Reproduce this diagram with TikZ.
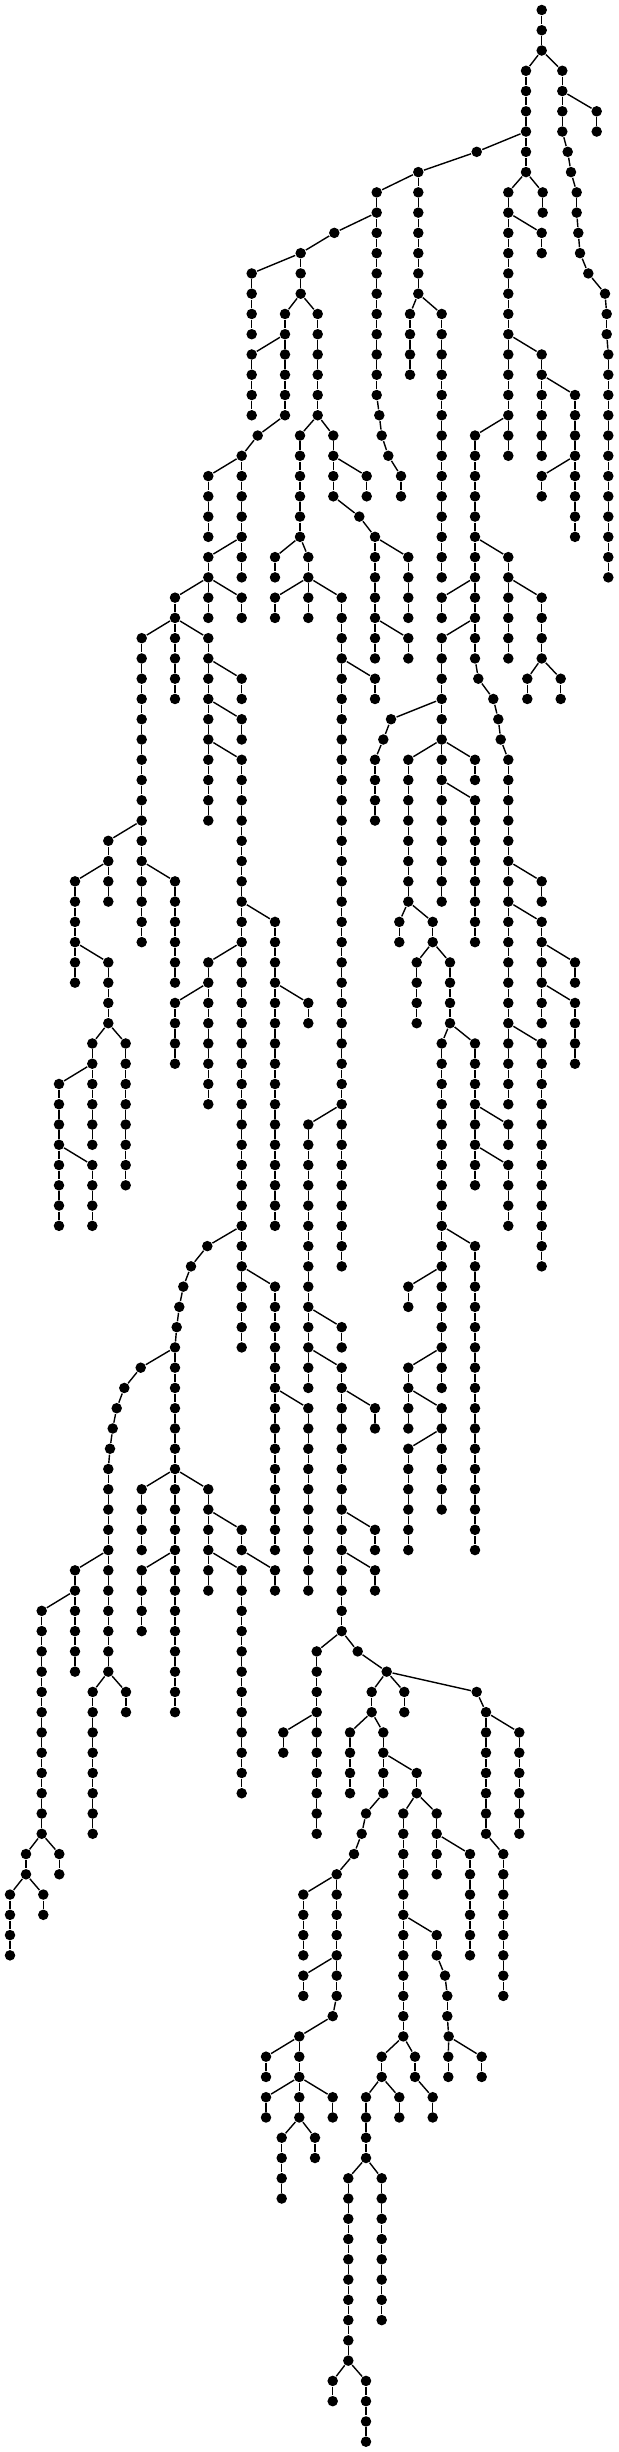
\documentclass[tikz,border=0pt]{standalone}
\tikzset{dot/.style={circle,fill=black,draw=none,inner sep=0pt,minimum size=0.105cm},
  edge/.style={line width=0.4pt,draw=black}}
\newcommand\tvchain[4]{%
  \foreach \lv in {#3,...,#4}{\node[dot] (#1-\lv) at (#2,{10+20.264*\lv}) {};}%
  \foreach \lv in {#3,...,#4}{\ifnum\lv>#3\relax\pgfmathtruncatemacro\pl{\lv-1}\draw[edge] (#1-\pl) -- (#1-\lv);\fi}}
\newcommand\tpchain[3]{%
  \foreach \xx [count=\ci from #2] in {#3}{\node[dot] (#1-\ci) at (\xx,{10+20.264*\ci}) {};}%
  \foreach \xx [count=\ci from #2] in {#3}{\ifnum\ci>#2\relax\pgfmathtruncatemacro\pl{\ci-1}\draw[edge] (#1-\pl) -- (#1-\ci);\fi}}
\begin{document}
\begin{tikzpicture}[x=0.01cm,y=-0.01cm]
\useasboundingbox (0,0) rectangle (619,2452);
\fill[white] (0,0) rectangle (619,2452);
% top and right part
\tvchain{r}{541.7}{0}{2}
\tpchain{b0}{3}{562.3,562.3,562.3,562.3,567.7,571,576.7,576.7,578.3,580,588.3,605,606.7,606.7}
\tvchain{bv}{608.3}{17}{28}
\tvchain{b1}{596.7}{5}{6}
\tvchain{a0}{526}{3}{8}
\tvchain{a1}{542.7}{9}{10}
\tvchain{c0}{508.3}{9}{22}
\tvchain{c1}{541.7}{11}{12}
\tvchain{c2}{541.7}{17}{22}
\tvchain{c3}{475}{21}{32}
\tpchain{c3d}{33}{478.3,493.3,498.3,500.7}
\tvchain{c3e}{508.3}{37}{54}
\tvchain{c4}{575}{19}{26}
\tvchain{c5}{541.7}{23}{24}
\tvchain{c6}{508.3}{27}{32}
\tvchain{c7}{541.7}{29}{32}
\tvchain{c8}{527.3}{33}{34}
\tvchain{c9}{560.7}{33}{34}
\tvchain{c10}{441.7}{29}{30}
\tvchain{c11}{441.7}{31}{44}
\tpchain{c12}{35}{391,383.3,375,375,375,375}
\tvchain{c13}{408.3}{37}{44}
\tvchain{c14}{475}{37}{38}
\tvchain{c15}{475}{39}{46}
\tvchain{c16}{399.3}{45}{46}
\tvchain{c17}{432.7}{45}{46}
\tvchain{c18}{416.7}{47}{50}
\tvchain{c19}{450}{47}{50}
\tvchain{c20}{441.7}{51}{68}
\tvchain{c21}{475}{51}{58}
\tvchain{c22}{508.3}{55}{56}
\tvchain{c23}{508.3}{57}{60}
\tvchain{c24}{541.7}{43}{44}
\tvchain{c25}{541.7}{45}{50}
\tvchain{c26}{541.7}{51}{62}
\tvchain{c27}{575}{47}{48}
\tvchain{c28}{575}{49}{52}
\tvchain{c29}{475}{61}{76}
\tvchain{c30}{408.3}{63}{64}
\tvchain{c31}{408.3}{67}{70}
\tvchain{c32}{441.7}{69}{74}
\tvchain{c33}{408.3}{71}{76}
% left part
\tpchain{d0}{7}{476.7}
\tvchain{d0v}{418.3}{8}{14}
\tvchain{d2}{410}{15}{18}
\tvchain{d3}{441.7}{15}{28}
\tvchain{d4}{376.7}{9}{19}
\tpchain{d4p}{20}{379.3,381.7,388.3,401,401}
\tpchain{d5a}{11}{334.3}
\tvchain{d5}{300.7}{12}{14}
\tvchain{d6}{251.7}{13}{16}
\tvchain{d8}{285}{15}{20}
\tpchain{d8a}{21}{257.7}
\tvchain{d8b}{241.7}{22}{28}
\tvchain{d9}{317.7}{15}{20}
\tvchain{d10}{251.7}{17}{20}
\tvchain{d11}{208.3}{23}{26}
\tvchain{d12}{208.3}{27}{28}
\tvchain{d13}{175}{29}{30}
\tvchain{d14}{208.3}{29}{30}
\tvchain{d15}{241.7}{29}{30}
\tvchain{d16}{141.7}{31}{46}
\tvchain{d17}{175}{31}{34}
\tvchain{d18}{208.3}{31}{40}
\tvchain{d19}{241.7}{33}{34}
\tvchain{d20}{241.7}{35}{36}
\tvchain{d21}{241.7}{37}{66}
\tvchain{d22}{108.3}{41}{44}
\tvchain{d23}{175}{43}{48}
\tvchain{d24}{75}{43}{48}
\tvchain{d25}{108.3}{47}{50}
\tvchain{d26}{92.3}{51}{56}
\tvchain{d27}{125.7}{51}{58}
\tvchain{d28}{59}{53}{60}
\tvchain{d29}{92.3}{57}{60}
\tvchain{d30}{275}{45}{60}
\tvchain{d31}{208.3}{47}{54}
\tpchain{d32p}{61}{207.3,191,183.3,179.3,176.7}
\tvchain{d32}{175}{66}{84}
\tvchain{d33}{275}{63}{76}
\tvchain{d34}{308.3}{49}{50}
\tvchain{d35}{175}{49}{52}
\tvchain{d36}{308.3}{69}{78}
% middle part
\tvchain{e1}{300}{21}{26}
\tvchain{e2}{333.3}{21}{24}
\tvchain{e3}{275}{27}{28}
\tvchain{e4}{308.3}{27}{28}
\tvchain{e5}{275}{29}{30}
\tvchain{e6}{308.3}{29}{30}
\tvchain{e7}{341.7}{29}{62}
\tvchain{e8}{366.7}{23}{24}
\tpchain{e9a}{25}{359.3}
\tvchain{e9}{375}{26}{32}
\tvchain{e10}{408.3}{27}{30}
\tvchain{e11}{408.3}{31}{32}
\tvchain{e12}{375}{33}{34}
\tvchain{e13}{308.3}{55}{68}
\tvchain{e14}{341.7}{65}{66}
\tvchain{e15}{341.7}{67}{80}
\tvchain{e16}{375}{69}{70}
\tvchain{e17}{375}{75}{76}
\tvchain{e18}{375}{77}{78}
\tvchain{e19}{316.7}{81}{90}
\tpchain{e20}{81}{357.7,386.7}
\tvchain{e21}{283.3}{85}{86}
\tvchain{e22}{371.7}{83}{84}
\tvchain{e23}{404.3}{83}{84}
\tpchain{e24a}{83}{476.7}
\tvchain{e24}{486}{84}{90}
\tvchain{e24b}{503.3}{91}{98}
\tvchain{e25}{519.3}{85}{90}
\tvchain{e26}{350}{85}{88}
\tvchain{e27}{383.3}{85}{88}
\tpchain{e27p}{89}{366,361.7,354}
\tvchain{e27v}{336.7}{92}{98}
\tpchain{e27z}{99}{332.7}
\tvchain{e28}{416.7}{87}{88}
\tvchain{e29}{303.3}{93}{96}
\tvchain{e30}{303.3}{97}{98}
\tvchain{e31}{299.3}{100}{104}
\tvchain{e32}{266}{101}{102}
\tvchain{e33}{266}{103}{104}
\tvchain{e34}{332.7}{103}{104}
\tvchain{e35}{281.7}{105}{108}
\tvchain{e36}{315}{105}{106}
\tvchain{e37}{403.3}{89}{100}
\tvchain{e38}{436.7}{89}{92}
\tvchain{e39}{470}{91}{96}
\tvchain{e40}{436.7}{95}{96}
\tpchain{e40p}{97}{445,447.3,447.3,448.7}
\tvchain{e41}{448.3}{101}{102}
\tvchain{e42}{481.7}{101}{102}
\tvchain{e43}{381.7}{101}{102}
\tvchain{e44}{415}{101}{102}
\tvchain{e45}{432.7}{103}{104}
\tvchain{e46}{366}{103}{106}
\tvchain{e47}{399.3}{103}{104}
\tvchain{e48}{348.3}{107}{116}
\tvchain{e49}{381.7}{107}{114}
\tvchain{e50}{332.7}{117}{118}
\tvchain{e51}{366}{117}{120}
% lower left part
\tpchain{f1p}{67}{140.7,124.3,116.7,112.7,110}
\tvchain{f1}{108.3}{72}{82}
\tvchain{f2}{141.7}{73}{76}
\tvchain{f3}{208.3}{73}{78}
\tvchain{f4}{141.7}{77}{80}
\tvchain{f5}{241.7}{75}{76}
\tvchain{f6}{241.7}{77}{88}
\tvchain{f7}{275}{77}{78}
\tvchain{f8}{75}{77}{82}
\tvchain{f9}{41.7}{79}{90}
\tvchain{f10}{26}{91}{92}
\tvchain{f11}{59.3}{91}{92}
\tvchain{f12}{10}{93}{96}
\tvchain{f13}{43.3}{93}{94}
\tvchain{f14}{92.7}{83}{90}
\tvchain{f15}{126}{83}{84}
% branch connectors
\foreach \p/\c in {r-2/b0-3,b0-16/bv-17,b0-4/b1-5,r-2/a0-3,a0-8/a1-9,a0-8/c0-9,c0-10/c1-11,c0-16/c2-17,
  c0-20/c3-21,c3-32/c3d-33,c3d-36/c3e-37,c2-18/c4-19,c4-22/c5-23,c3-26/c6-27,c6-28/c7-29,c7-32/c8-33,
  c7-32/c9-33,c3-28/c10-29,c3-30/c11-31,c11-34/c12-35,c11-36/c13-37,c11-36/c14-37,c11-38/c15-39,
  c13-44/c16-45,c13-44/c17-45,c17-46/c18-47,c17-46/c19-47,c19-50/c20-51,c19-50/c21-51,c21-54/c22-55,
  c21-56/c23-57,c3e-42/c24-43,c3e-44/c25-45,c3e-50/c26-51,c25-46/c27-47,c25-48/c28-49,c20-60/c29-61,
  c20-62/c30-63,c20-66/c31-67,c31-68/c32-69,c32-70/c33-71}
  {\draw[edge] (\p) -- (\c);}
\foreach \p/\c in {a0-6/d0-7,d0-7/d0v-8,d0v-14/d2-15,d0v-14/d3-15,d0v-8/d4-9,d4-19/d4p-20,d4-10/d5a-11,
  d5a-11/d5-12,d5-12/d6-13,d5-14/d8-15,d8-20/d8a-21,d8a-21/d8b-22,d5-14/d9-15,d8-16/d10-17,d8b-22/d11-23,
  d8b-26/d12-27,d12-28/d13-29,d12-28/d14-29,d12-28/d15-29,d13-30/d16-31,d13-30/d17-31,d13-30/d18-31,
  d18-32/d19-33,d18-34/d20-35,d18-36/d21-37,d16-40/d22-41,d16-42/d23-43,d22-42/d24-43,d24-46/d25-47,
  d25-50/d26-51,d25-50/d27-51,d26-52/d28-53,d28-56/d29-57,d21-44/d30-45,d21-46/d31-47,d21-60/d32p-61,
  d32p-65/d32-66,d21-62/d33-63,d30-48/d34-49,d31-48/d35-49,d33-68/d36-69}
  {\draw[edge] (\p) -- (\c);}
\foreach \p/\c in {d9-20/e1-21,d9-20/e2-21,e1-26/e3-27,e1-26/e4-27,e4-28/e5-29,e4-28/e6-29,e4-28/e7-29,
  e2-22/e8-23,e2-24/e9a-25,e9a-25/e9-26,e9-26/e10-27,e9-30/e11-31,e7-32/e12-33,e7-54/e13-55,
  e13-64/e14-65,e13-66/e15-67,e15-68/e16-69,e15-74/e17-75,e15-76/e18-77,e15-80/e19-81,e15-80/e20-81,
  e19-84/e21-85,e20-82/e22-83,e20-82/e23-83,e20-82/e24a-83,e24a-83/e24-84,e24-90/e24b-91,e24-84/e25-85,
  e22-84/e26-85,e22-84/e27-85,e27-88/e27p-89,e27p-91/e27v-92,e27v-98/e27z-99,e27-86/e28-87,
  e27v-92/e29-93,e27v-96/e30-97,e27z-99/e31-100,e31-100/e32-101,e31-102/e33-103,e31-102/e34-103,
  e31-104/e35-105,e31-104/e36-105,e28-88/e37-89,e28-88/e38-89,e38-90/e39-91,e37-94/e40-95,
  e40-96/e40p-97,e40p-100/e41-101,e40p-100/e42-101,e37-100/e43-101,e37-100/e44-101,e44-102/e45-103,
  e43-102/e46-103,e43-102/e47-103,e46-106/e48-107,e46-106/e49-107,e48-116/e50-117,e48-116/e51-117}
  {\draw[edge] (\p) -- (\c);}
\foreach \p/\c in {d32-66/f1p-67,f1p-71/f1-72,d32-72/f2-73,d32-72/f3-73,d32-76/f4-77,f3-74/f5-75,
  f3-76/f6-77,f5-76/f7-77,f1-76/f8-77,f8-78/f9-79,f9-90/f10-91,f9-90/f11-91,f10-92/f12-93,
  f10-92/f13-93,f1-82/f14-83,f1-82/f15-83}
  {\draw[edge] (\p) -- (\c);}
\end{tikzpicture}
\end{document}
